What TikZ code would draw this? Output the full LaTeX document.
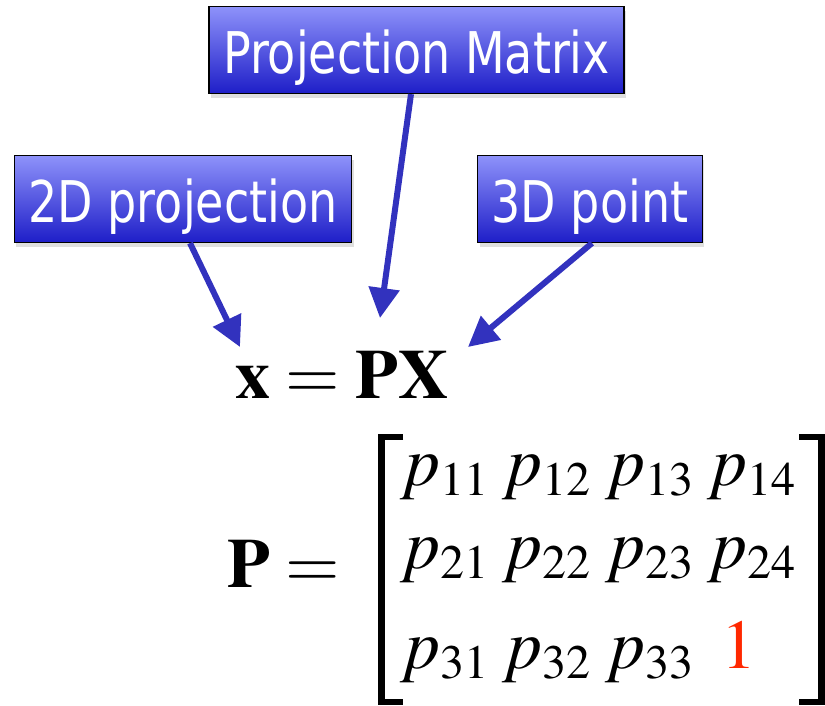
\documentclass[tikz,border=0pt]{standalone}
\usepackage{fontspec}
\usepackage{mathptmx}
\usepackage{tikz}
\usetikzlibrary{positioning, arrows.meta, shadows}
\newfontfamily\boxfont[FakeStretch=0.8]{DejaVu Sans}
\DeclareMathSizes{70}{70}{48}{35}
\definecolor{boxtop}{RGB}{142,146,250}
\definecolor{boxbot}{RGB}{30,30,200}
\definecolor{arrblue}{RGB}{50,50,190}
\definecolor{onered}{RGB}{255,40,0}
\tikzset{
  lbl/.style={draw=black, line width=1.2pt, top color=boxtop, bottom color=boxbot,
              text=white, font=\boxfont\fontsize{57.5}{64}\selectfont,
              minimum height=87pt, inner xsep=14pt, text height=47pt, text depth=0pt,
              drop shadow={opacity=0.25, shadow xshift=2pt, shadow yshift=-4pt}},
  eqn/.style={inner sep=0pt, font=\fontsize{70}{84}\selectfont},
  arr/.style={-{Triangle[length=30pt, width=30pt]}, line width=6pt, draw=arrblue},
  brk/.style={line width=6.5pt, line cap=butt},
}

\begin{document}
\begin{tikzpicture}[x=1pt, y=-1pt]
  \useasboundingbox (0,0) rectangle (825,705);
  % labels
  \node[lbl](pm) at (416.5,50){Projection Matrix};
  \node[lbl](proj) at (183,199){2D projection};
  \node[lbl](pt) at (590,199){3D point};
  % x = PX
  \node[eqn, anchor=base west](xeq) at (235,398){$\mathbf{x}=\mathbf{PX}$};
  \coordinate (tipx) at (240,347);
  \coordinate (tipP) at (380,318);
  \coordinate (tipX) at (468,347);
  \draw[arr](proj.south -| 190,0)--(tipx);
  \draw[arr](pm.south -| 411,0)--(tipP);
  \draw[arr](pt.south -| 592,0)--(tipX);
  % P matrix
  \node[eqn, anchor=base west](peq) at (227,587){$\mathbf{P}=$};
  \foreach \r/\yb in {1/485, 2/568, 3/668}{
    \foreach \c/\xb in {1/400, 2/502, 3/605, 4/707}{
      \ifnum\r\c=34\else
        \node[eqn, anchor=base west](p\r\c) at (\xb,\yb){$p_{\r\c}$};
      \fi
    }
  }
  \node[eqn, anchor=base west, text=onered](one) at (721,668){$1$};
  \draw[brk](403,437)--(381.5,437)--(381.5,702)--(403,702);
  \draw[brk](799,437)--(821.5,437)--(821.5,702)--(799,702);
\end{tikzpicture}
\end{document}
